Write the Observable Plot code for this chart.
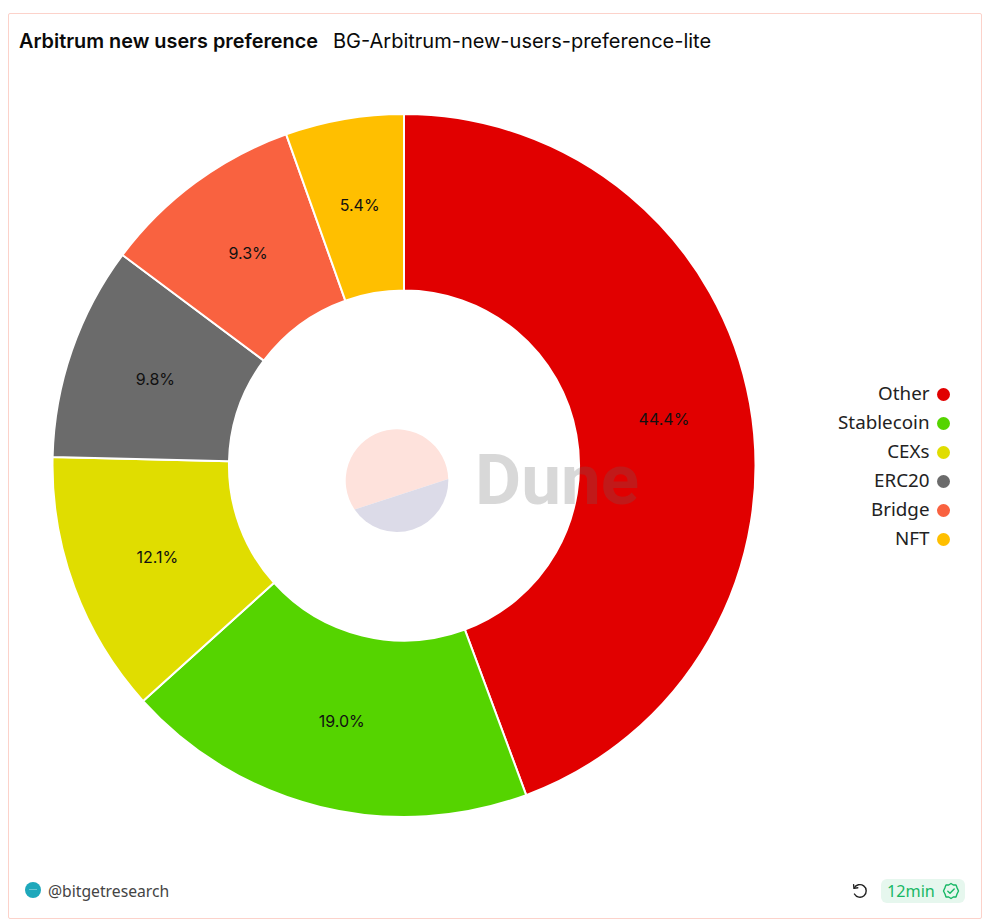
<!DOCTYPE html>
<html>
<head>
<meta charset="utf-8">
<script src="https://cdn.jsdelivr.net/npm/d3@7"></script>
<script src="https://cdn.jsdelivr.net/npm/@observablehq/plot@0.6"></script>
<style>
  html, body { margin: 0; padding: 0; background: #fff; }
  #page { position: relative; width: 992px; height: 924px; overflow: hidden; font-family: "Open Sans", sans-serif; }
  #frame { position: absolute; left: 8px; top: 13px; width: 972px; height: 904px; border: 1px solid #fcd2ca; border-radius: 2px; box-sizing: content-box; }
  .abs { position: absolute; white-space: nowrap; }
  #title { left: 19px; top: 28px; font: 600 19.85px/26px Inter, sans-serif; color: #0a0a0a; }
  #subtitle { left: 333px; top: 28px; font: 400 20px/26px Inter, sans-serif; color: #0a0a0a; }
  #chart { position: absolute; left: 0; top: 0; }
  #legend { position: absolute; left: 800px; top: 370px; }
  #mark-logo { position: absolute; left: 340px; top: 424px; }
  #mark-text { left: 475px; top: 436px; font: 700 71px/88px Roboto, sans-serif; color: rgba(100,100,100,.25); }
  #avatar { position: absolute; left: 25px; top: 882px; width: 16px; height: 16px; border-radius: 50%; background: #1ea8bb; }
  #avatar i { position: absolute; left: 4px; top: 7px; width: 8px; height: 1px; background: rgba(255,255,255,.35); }
  #owner { left: 48px; top: 881px; font: 400 15.7px/20px "Noto Sans", sans-serif; color: #444; }
  #refresh { position: absolute; left: 851px; top: 882px; }
  #badge { position: absolute; left: 881px; top: 879px; width: 84px; height: 24px; border-radius: 6px; background: #e6f7ee; }
  #age { left: 887px; top: 881px; font: 400 16.2px/20px "Noto Sans", sans-serif; color: #17b765; }
  #check { position: absolute; left: 942px; top: 882px; }
</style>
</head>
<body>
<div id="page">
  <div id="frame"></div>
  <div id="title" class="abs">Arbitrum new users preference</div>
  <div id="subtitle" class="abs">BG-Arbitrum-new-users-preference-lite</div>
  <div id="chart"></div>
  <div id="legend"></div>
  <svg id="mark-logo" width="114" height="114" viewBox="0 0 114 114">
    <path d="M108.28 55 A51.3 51.3 0 1 0 14.6 85.5 Z" fill="#fee2dc"/>
    <path d="M108.28 55 A51.3 51.3 0 0 1 14.6 85.5 Z" fill="#dcdbe8"/>
  </svg>
  <div id="mark-text" class="abs">Dune</div>
  <div id="avatar"><i></i></div>
  <div id="owner" class="abs">@bitgetresearch</div>
  <svg id="refresh" width="18" height="18" viewBox="0 0 18 18" fill="none" stroke="#222" stroke-width="1.4" stroke-linecap="round" stroke-linejoin="round">
    <path d="M3.2 6.2 A6.3 6.3 0 1 1 3.4 12"/><path d="M2.6 2.6 L3 6.4 L6.8 5.8"/>
  </svg>
  <div id="badge"></div>
  <div id="age" class="abs">12min</div>
  <svg id="check" width="18" height="18" viewBox="0 0 18 18" fill="none" stroke="#17b765" stroke-width="1.4" stroke-linecap="round" stroke-linejoin="round">
    <path d="M9 1.5 L11.3 3 L14 3 L15 5.6 L16.5 9 L15 12 L14 15 L11.3 15 L9 16.5 L6.7 15 L4 15 L3 12 L1.5 9 L3 5.6 L4 3 L6.7 3 Z"/><path d="M5.8 9.2 L8 11.3 L12.2 6.9"/>
  </svg>
</div>
<script>
const categories = ["Other", "Stablecoin", "CEXs", "ERC20", "Bridge", "NFT"];
const shares = [44.35, 18.96, 12.08, 9.83, 9.34, 5.44];
const colors = ["#e10000", "#55d400", "#e0dd00", "#6b6b6b", "#f96240", "#ffbf00"];

const centerX = 404, centerY = 465.5, outerPx = 351.5;
const innerRatio = 0.498, labelRatio = 0.75;

const angles = d3.pie().sort(null).value(d => d)(shares);
const slices = categories.map((name, i) => {
  const mid = (angles[i].startAngle + angles[i].endAngle) / 2;
  return {
    name,
    share: shares[i],
    startAngle: angles[i].startAngle,
    endAngle: angles[i].endAngle,
    labelX: labelRatio * Math.sin(mid),
    labelY: labelRatio * Math.cos(mid)
  };
});

const colorScale = { domain: categories, range: colors };

const chart = Plot.plot({
  width: 992, height: 924,
  margin: 0,
  style: { background: "transparent" },
  x: { domain: [-1, 1], range: [centerX - outerPx, centerX + outerPx], axis: null },
  y: { domain: [-1, 1], range: [centerY + outerPx, centerY - outerPx], axis: null },
  color: colorScale,
  marks: [
    Plot.dot(slices, {
      x: () => 0, y: () => 0, fill: "name",
      render(index, scales, values, dimensions) {
        const unit = (scales.x(1) - scales.x(-1)) / 2;
        const ox = scales.x(0), oy = scales.y(0);
        const arc = d3.arc().innerRadius(unit * innerRatio).outerRadius(unit);
        const g = d3.create("svg:g").attr("transform", `translate(${ox},${oy})`);
        for (const i of index) {
          g.append("path").attr("d", arc(slices[i]))
            .attr("fill", values.fill[i])
            .attr("stroke", "#fff").attr("stroke-width", 2).attr("stroke-linejoin", "round");
        }
        return g.node();
      }
    }),
    Plot.text(slices, {
      x: "labelX", y: "labelY",
      text: d => d.share.toFixed(1) + "%",
      fontSize: 16, fontFamily: "Inter", fill: "#111", dy: 0
    })
  ]
});
document.getElementById("chart").append(chart);

const legend = Plot.plot({
  width: 150, height: 190,
  margin: 0,
  style: { background: "transparent", overflow: "visible" },
  x: { axis: null },
  y: { domain: categories, type: "point", padding: 0, range: [23, 169], axis: null },
  color: colorScale,
  marks: [
    Plot.dot(categories, { y: d => d, fill: d => d, r: 6.5, frameAnchor: "right", dx: -7 }),
    Plot.text(categories, { y: d => d, text: d => d, frameAnchor: "right", textAnchor: "end", dx: -21, dy: -1, fontSize: 18.8, fontFamily: "Noto Sans", fill: "#222" })
  ]
});
document.getElementById("legend").append(legend);
</script>
</body>
</html>
